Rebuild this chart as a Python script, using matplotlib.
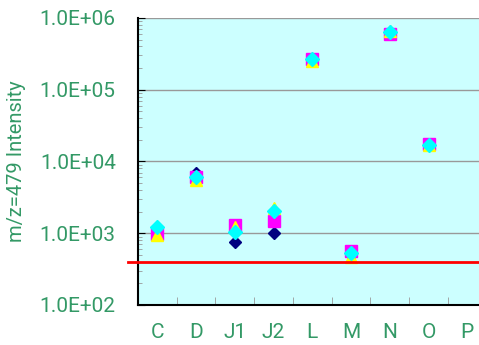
import numpy as np
import matplotlib
matplotlib.use("Agg")
import matplotlib.pyplot as plt
from matplotlib.ticker import FuncFormatter, LogLocator, FixedLocator, NullFormatter

# samples and the four replicate series (m/z 479 intensity)
samples = ["C", "D", "J1", "J2", "L", "M", "N", "O", "P"]
rep_navy = [950, 6800, 750, 1010, 250000, 500, 620000, 17000, np.nan]
rep_magenta = [970, 6000, 1300, 1470, 265000, 566, 590000, 17300, np.nan]
rep_yellow = [950, 5600, 1220, 2250, 255000, 465, 660000, 16800, np.nan]
rep_cyan = [1210, 6100, 1040, 2020, 265000, 525, 645000, 17000, np.nan]
cutoff = 400

green = "#339966"
plt.rcParams["font.family"] = ["Roboto", "DejaVu Sans"]

fig = plt.figure(figsize=(4.79, 3.45), dpi=100)
ax = fig.add_axes([0.288, 0.116, 0.720, 0.832])
ax.set_facecolor("#CCFFFF")

x = np.arange(len(samples))
ax.plot(x, rep_navy, "D", color="#000080", ms=6, ls="none", zorder=3)
ax.plot(x, rep_magenta, "s", color="#FF00FF", ms=8, ls="none", zorder=4)
ax.plot(x, rep_yellow, "^", color="#FFFF00", ms=9, ls="none", zorder=5)
ax.plot(x, rep_cyan, "D", color="#00FFFF", ms=7, ls="none", zorder=6)

# detection limit line, sticking out a little past the left axis
ax.plot([-0.03, 1.0], [cutoff, cutoff], color="#FF0000", lw=2,
        transform=ax.get_yaxis_transform(), clip_on=False, zorder=7)

ax.set_yscale("log")
ax.set_ylim(100, 1e6)
ax.set_xlim(-0.5, 8.4)

ax.yaxis.set_major_locator(LogLocator(base=10, numticks=10))
ax.yaxis.set_minor_locator(LogLocator(base=10, subs=np.arange(2, 10), numticks=10))
ax.yaxis.set_minor_formatter(NullFormatter())
ax.yaxis.set_major_formatter(FuncFormatter(lambda v, p: f"{v:.1E}"))
ax.grid(axis="y", which="major", color="#999999", lw=1)
ax.set_axisbelow(True)

ax.set_xticks(x)
ax.set_xticklabels(samples)
ax.xaxis.set_minor_locator(FixedLocator(x[:-1] + 0.5))

ax.tick_params(axis="x", which="major", length=0, pad=13, labelsize=15, labelcolor=green)
ax.tick_params(axis="x", which="minor", direction="in", length=6, color="#999999")
ax.tick_params(axis="y", which="major", direction="in", length=5, pad=16,
               labelsize=15, labelcolor=green)
ax.tick_params(axis="y", which="minor", direction="in", length=3, color="#999999")

ax.set_ylabel("m/z=479 Intensity", color=green, fontsize=14.5)
ax.yaxis.set_label_coords(-0.325, 0.5)

for s in ["top", "right"]:
    ax.spines[s].set_visible(False)
ax.spines["left"].set_linewidth(1.5)
ax.spines["bottom"].set_linewidth(1.5)

fig.savefig("out.png", dpi=100)
